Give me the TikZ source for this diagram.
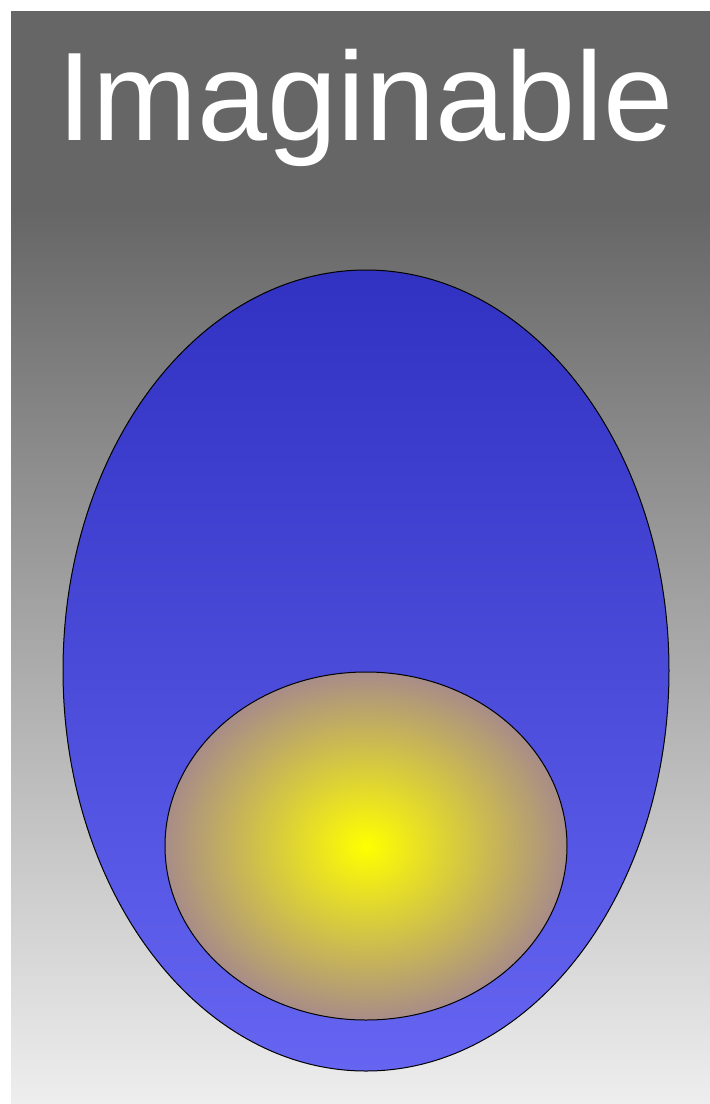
\documentclass[tikz,border=0pt]{standalone}
\usepackage{fontspec}
\setmainfont{Liberation Sans}
\usetikzlibrary{shapes.geometric}

\definecolor{bgdark}{HTML}{666666}
\definecolor{bglight}{HTML}{EEEEEE}
\definecolor{outertop}{HTML}{3131C2}
\definecolor{outerbot}{HTML}{6565F2}
\definecolor{innerrim}{HTML}{A88C88}

\pgfdeclareverticalshading{bgfade}{100bp}{color(0bp)=(bglight); color(25bp)=(bglight); color(66bp)=(bgdark); color(100bp)=(bgdark)}

\begin{document}
\begin{tikzpicture}[x=1pt,y=-1pt,
  blob/.style={draw=black,ellipse,inner sep=0pt,line width=1pt},
  title/.style={text=white,font=\fontsize{126}{126}\selectfont,anchor=base,inner sep=0pt}]
\useasboundingbox (0,0) rectangle (710,1104);
% backdrop
\shade[shading=bgfade] (11,11) rectangle (710,1104);
\node[title] (word) at (365.5,140) {Imaginable};
\node[blob,minimum width=606pt,minimum height=801pt,top color=outertop,bottom color=outerbot] (space) at (366,670.5) {};
\node[blob,minimum width=402pt,minimum height=348pt,inner color=yellow,outer color=innerrim] (core) at (366,846) {};
\end{tikzpicture}
\end{document}
